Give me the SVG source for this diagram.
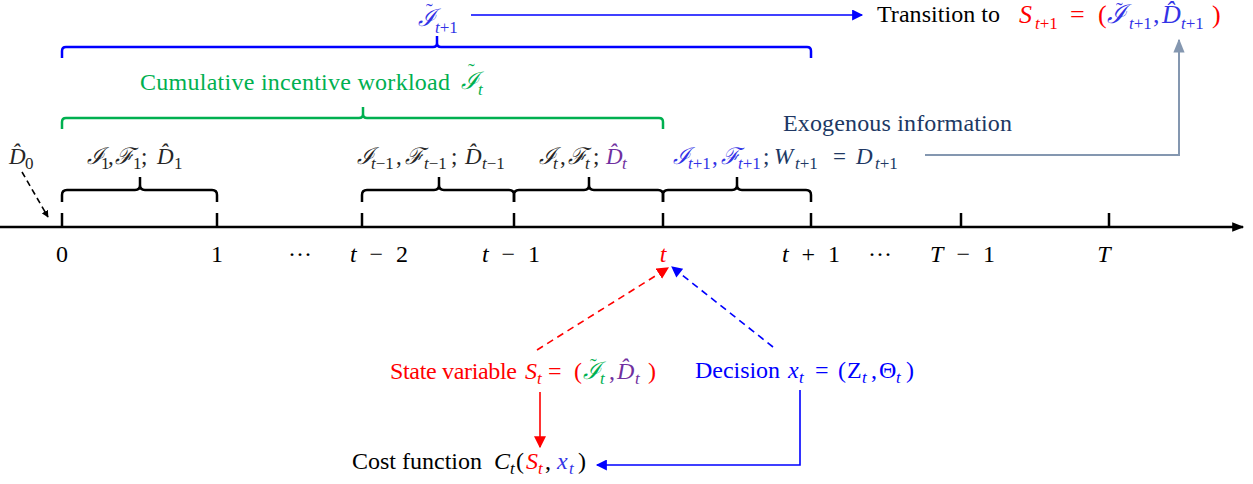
<svg xmlns="http://www.w3.org/2000/svg" width="1253" height="484" viewBox="0 0 1253 484" font-family="'Liberation Serif','DejaVu Serif',serif">
<defs>
<style>
text{font-family:"Liberation Serif","DejaVu Serif",serif;}
.m{font-style:italic;}
.up{font-style:normal;}
.lab{font-size:24px;}
.bl{font-size:23px;}
.bs{font-size:17px;}
.ax{font-size:24px;}
.tl{font-size:20px;font-style:normal;}
.brk{fill:none;stroke:#000;stroke-width:2.5;}
</style>
<marker id="ab" viewBox="0 0 10 10" refX="9" refY="5" markerWidth="7" markerHeight="7" orient="auto" markerUnits="userSpaceOnUse"><path d="M0,0 L10,5 L0,10 z" fill="#000"/></marker>
<marker id="axh" viewBox="0 0 10 10" refX="9" refY="5" markerWidth="14" markerHeight="12" orient="auto" markerUnits="userSpaceOnUse"><path d="M0,1 L10,5 L0,9 z" fill="#000"/></marker>
<marker id="ablue" viewBox="0 0 10 10" refX="9" refY="5" markerWidth="13" markerHeight="11" orient="auto" markerUnits="userSpaceOnUse"><path d="M0,0 L10,5 L0,10 z" fill="#0000ff"/></marker>
<marker id="ared" viewBox="0 0 10 10" refX="9" refY="5" markerWidth="12" markerHeight="12" orient="auto" markerUnits="userSpaceOnUse"><path d="M0,0 L10,5 L0,10 z" fill="#ff0000"/></marker>
<marker id="agrey" viewBox="0 0 10 10" refX="9" refY="5" markerWidth="14" markerHeight="14" orient="auto" markerUnits="userSpaceOnUse"><path d="M0,1 L10,5 L0,9 z" fill="#8497b0"/></marker>
</defs>
<rect width="1253" height="484" fill="#fff"/>

<g id="connectors">
<line x1="0" y1="227" x2="1243" y2="227" stroke="#000" stroke-width="2.5" marker-end="url(#axh)"/>
<g stroke="#000" stroke-width="2.5">
<line x1="62" y1="213" x2="62" y2="227"/>
<line x1="217" y1="213" x2="217" y2="227"/>
<line x1="362" y1="213" x2="362" y2="227"/>
<line x1="514" y1="213" x2="514" y2="227"/>
<line x1="663" y1="213" x2="663" y2="227"/>
<line x1="811" y1="213" x2="811" y2="227"/>
<line x1="961" y1="213" x2="961" y2="227"/>
<line x1="1109" y1="213" x2="1109" y2="227"/>
</g>
<line x1="22" y1="172" x2="48" y2="217" stroke="#000" stroke-width="1.6" stroke-dasharray="6,4" marker-end="url(#ab)"/>
<line x1="471" y1="15" x2="862" y2="15" stroke="#0000ff" stroke-width="1.6" marker-end="url(#ablue)"/>
<path d="M925,155 H1179 V40" fill="none" stroke="#8497b0" stroke-width="2" marker-end="url(#agrey)"/>
<line x1="537" y1="350" x2="668" y2="268" stroke="#ff0000" stroke-width="1.6" stroke-dasharray="7,5" marker-end="url(#ared)"/>
<line x1="773" y1="347" x2="672" y2="267" stroke="#0000ff" stroke-width="1.6" stroke-dasharray="7,5" marker-end="url(#ablue)"/>
<line x1="540" y1="392" x2="540" y2="447" stroke="#ff0000" stroke-width="1.6" marker-end="url(#ared)"/>
<path d="M800,390 V465 H597" fill="none" stroke="#0000ff" stroke-width="1.6" marker-end="url(#ablue)"/>
</g>

<g id="brackets">
<path class="brk" d="M62,202 V195 Q62,190 67,190 H135 Q140,190 140,185 V177 M140,185 Q140,190 145,190 H212 Q217,190 217,195 V202"/>
<path class="brk" d="M362,202 V195 Q362,190 367,190 H434 Q439,190 439,185 V177 M439,185 Q439,190 444,190 H509 Q514,190 514,195 V202"/>
<path class="brk" d="M514,202 V195 Q514,190 519,190 H584 Q589,190 589,185 V177 M589,185 Q589,190 594,190 H658 Q663,190 663,195 V202"/>
<path class="brk" d="M663,202 V195 Q663,190 668,190 H732 Q737,190 737,185 V177 M737,185 Q737,190 742,190 H806 Q811,190 811,195 V202"/>
<path d="M62,129 V122 Q62,118 66,118 H359 Q363,118 363,114 V107 M363,114 Q363,118 367,118 H659 Q663,118 663,122 V129" fill="none" stroke="#00b050" stroke-width="2.5"/>
<path d="M62,58 V51 Q62,47 66,47 H433 Q437,47 437,43 V36 M437,43 Q437,47 441,47 H807 Q811,47 811,51 V58" fill="none" stroke="#0000ff" stroke-width="2.5"/>
</g>

<g id="axis-labels" class="ax">
<text x="62" y="262" text-anchor="middle">0</text>
<text x="217" y="262" text-anchor="middle">1</text>
<text x="300" y="262" text-anchor="middle">···</text>
<text x="350" y="262" class="m" textLength="58" lengthAdjust="spacing">t<tspan class="up"> − 2</tspan></text>
<text x="482" y="262" class="m" textLength="58" lengthAdjust="spacing">t<tspan class="up"> − 1</tspan></text>
<text x="663" y="262" text-anchor="middle" class="m" fill="#ff0000">t</text>
<text x="782" y="262" class="m" textLength="58" lengthAdjust="spacing">t<tspan class="up"> + 1</tspan></text>
<text x="880" y="262" text-anchor="middle">···</text>
<text x="930" y="262" class="m" textLength="65" lengthAdjust="spacing">T<tspan class="up"> − 1</tspan></text>
<text x="1104" y="262" text-anchor="middle" class="m">T</text>
</g>

<g id="node-D0" fill="#262626">
<text class="bl"><tspan x="9" y="164" class="m">D̂</tspan><tspan x="25" y="169" class="bs">0</tspan></text>
</g>

<g id="node-interval1" fill="#262626">
<text class="bl"><tspan x="87" y="164" class="m">ℐ</tspan><tspan x="101" y="169" class="bs">1</tspan><tspan x="108" y="164">,</tspan><tspan x="115" y="164" class="m">ℱ</tspan><tspan x="133" y="169" class="bs">1</tspan><tspan x="141" y="164">;</tspan><tspan x="157" y="164" class="m">D̂</tspan><tspan x="174" y="169" class="bs">1</tspan></text>
</g>

<g id="node-interval-t-1" fill="#262626">
<text class="bl"><tspan x="357" y="164" class="m">ℐ</tspan><tspan x="371" y="169" class="bs m">t</tspan><tspan class="bs">−1</tspan><tspan x="396" y="164">,</tspan><tspan x="405" y="164" class="m">ℱ</tspan><tspan x="424" y="169" class="bs m">t</tspan><tspan class="bs">−1</tspan><tspan x="451" y="164">;</tspan><tspan x="465" y="164" class="m">D̂</tspan><tspan x="482" y="169" class="bs m">t</tspan><tspan class="bs">−1</tspan></text>
</g>

<g id="node-interval-t" fill="#262626">
<text class="bl"><tspan x="539" y="164" class="m">ℐ</tspan><tspan x="553" y="169" class="bs m">t</tspan><tspan x="560" y="164">,</tspan><tspan x="568" y="164" class="m">ℱ</tspan><tspan x="585" y="169" class="bs m">t</tspan><tspan x="593" y="164">;</tspan><tspan x="606" y="164" class="m" fill="#7030a0">D̂</tspan><tspan x="622" y="169" class="bs m" fill="#7030a0">t</tspan></text>
</g>

<g id="node-interval-t1">
<text class="bl" fill="#3333e6"><tspan x="673" y="164" class="m">ℐ</tspan><tspan x="688" y="169" class="bs m">t</tspan><tspan class="bs">+1</tspan><tspan x="712" y="164">,</tspan><tspan x="721" y="164" class="m">ℱ</tspan><tspan x="738" y="169" class="bs m">t</tspan><tspan class="bs">+1</tspan><tspan x="763" y="164" fill="#203864">;</tspan><tspan x="774" y="164" class="m" fill="#203864">W</tspan><tspan x="795" y="169" class="bs m" fill="#203864">t</tspan><tspan class="bs" fill="#203864">+1</tspan><tspan x="833" y="164" fill="#203864">=</tspan><tspan x="856" y="164" class="m" fill="#203864">D</tspan><tspan x="875" y="169" class="bs m" fill="#203864">t</tspan><tspan class="bs" fill="#203864">+1</tspan></text>
</g>

<g id="node-exogenous">
<text x="783" y="131" class="lab" fill="#203864" textLength="229" lengthAdjust="spacing">Exogenous information</text>
</g>

<g id="node-cumulative" fill="#00b050">
<text x="140" y="90" class="lab" textLength="310" lengthAdjust="spacing">Cumulative incentive workload</text>
<text class="lab"><tspan x="461" y="89" class="m">ℐ</tspan><tspan x="468" y="78" class="tl">˜</tspan><tspan x="478" y="95" class="bs m">t</tspan></text>
</g>

<g id="node-It1" fill="#3333e6">
<text class="lab"><tspan x="418" y="26" class="m">ℐ</tspan><tspan x="426" y="18" class="tl">˜</tspan><tspan x="435" y="33" class="bs m">t</tspan><tspan class="bs">+1</tspan></text>
</g>

<g id="node-transition">
<text x="877" y="22" class="lab" fill="#000" textLength="123" lengthAdjust="spacing">Transition to</text>
<text style="font-size:26px" fill="#ff0000"><tspan x="1019" y="23" class="m">S</tspan><tspan x="1035" y="29" class="m" style="font-size:17px">t</tspan><tspan style="font-size:17px">+1</tspan><tspan x="1070" y="23">=</tspan><tspan x="1098" y="23">(</tspan><tspan x="1107" y="23" class="m" fill="#3333e6">ℐ</tspan><tspan x="1116" y="17" class="tl" fill="#3333e6">˜</tspan><tspan x="1129" y="29" class="m" style="font-size:17px" fill="#3333e6">t</tspan><tspan style="font-size:17px" fill="#3333e6">+1</tspan><tspan x="1153" y="23" fill="#3333e6">,</tspan><tspan x="1162" y="23" class="m" fill="#3333e6">D̂</tspan><tspan x="1181" y="29" class="m" style="font-size:17px" fill="#3333e6">t</tspan><tspan style="font-size:17px" fill="#3333e6">+1</tspan><tspan x="1212" y="23">)</tspan></text>
</g>

<g id="node-state" fill="#ff0000">
<text x="390" y="379" class="lab" textLength="127" lengthAdjust="spacing">State variable</text>
<text class="lab"><tspan x="525" y="379" class="m">S</tspan><tspan x="537" y="384" class="bs m">t</tspan><tspan x="548" y="379">=</tspan><tspan x="574" y="379">(</tspan><tspan x="583" y="379" class="m" fill="#00b050">ℐ</tspan><tspan x="590" y="373" class="tl" fill="#00b050">˜</tspan><tspan x="600" y="384" class="bs m" fill="#00b050">t</tspan><tspan x="609" y="379" fill="#7030a0">,</tspan><tspan x="617" y="379" class="m" fill="#7030a0">D̂</tspan><tspan x="635" y="384" class="bs m" fill="#7030a0">t</tspan><tspan x="648" y="379">)</tspan></text>
</g>

<g id="node-decision" fill="#0000ff">
<text x="695" y="378" class="lab" textLength="85" lengthAdjust="spacing">Decision</text>
<text class="lab"><tspan x="788" y="378" class="m">x</tspan><tspan x="799" y="383" class="bs m">t</tspan><tspan x="815" y="378">=</tspan><tspan x="838" y="378">(</tspan><tspan x="847" y="378">Z</tspan><tspan x="862" y="383" class="bs m">t</tspan><tspan x="871" y="378">,</tspan><tspan x="879" y="378">Θ</tspan><tspan x="896" y="383" class="bs m">t</tspan><tspan x="906" y="378">)</tspan></text>
</g>

<g id="node-cost" fill="#000">
<text x="352" y="469" class="lab" textLength="130" lengthAdjust="spacing">Cost function</text>
<text class="lab"><tspan x="494" y="469" class="m">C</tspan><tspan x="510" y="474" class="bs m">t</tspan><tspan x="516" y="469">(</tspan><tspan x="526" y="469" class="m" fill="#ff0000">S</tspan><tspan x="538" y="474" class="bs m" fill="#ff0000">t</tspan><tspan x="545" y="469">,</tspan><tspan x="557" y="469" class="m" fill="#3333e6">x</tspan><tspan x="569" y="474" class="bs m" fill="#3333e6">t</tspan><tspan x="578" y="469">)</tspan></text>
</g>
</svg>
